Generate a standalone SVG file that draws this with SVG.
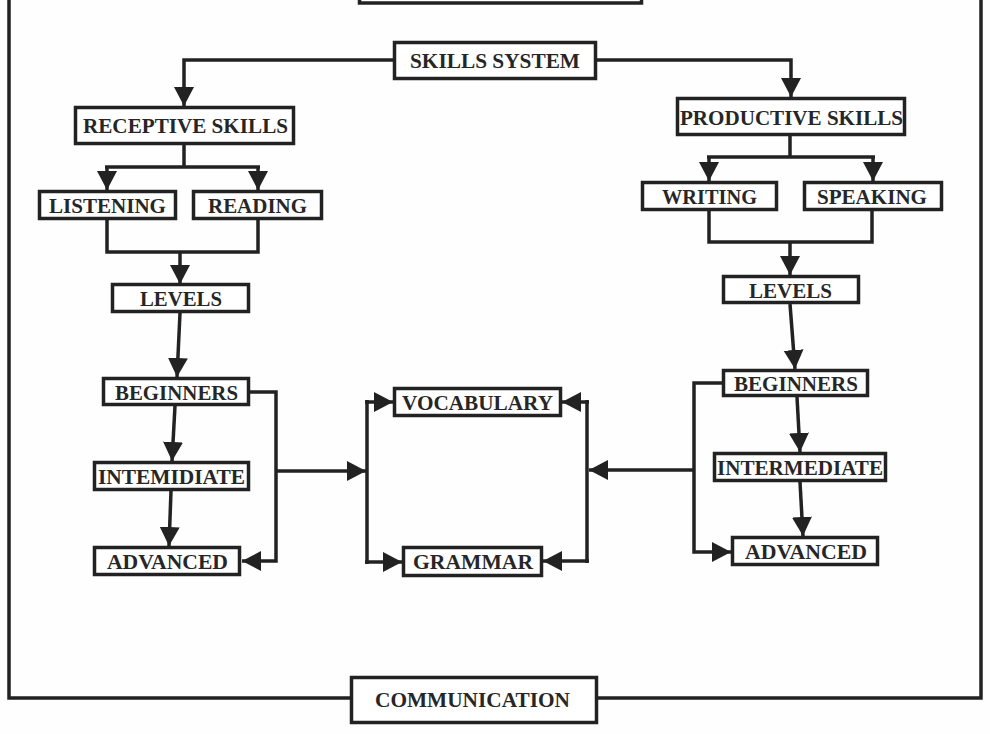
<svg xmlns="http://www.w3.org/2000/svg" width="990" height="734" viewBox="0 0 990 734">
  <style>
    .box { fill: #ffffff; stroke: #222222; stroke-width: 3.5; }
    .lbl { font-family: "Liberation Serif", "Times New Roman", serif; font-weight: bold; font-size: 21px; fill: #262626; }
    .wire { fill: none; stroke: #222222; stroke-width: 3.5; stroke-linejoin: miter; }
    .arr { fill: none; stroke: #222222; stroke-width: 3.5; marker-end: url(#head); }
  </style>
  <defs>
    <marker id="head" markerUnits="userSpaceOnUse" markerWidth="22" markerHeight="22" refX="19" refY="10" orient="auto">
      <path d="M0,0 L19,10 L0,20 z" fill="#222222"/>
    </marker>
  </defs>

  <rect width="990" height="734" fill="#fefefe"/>

  <!-- outer frame -->
  <g id="frame">
    <path class="wire" d="M9,0 V698 H351 M597,698 H981 V0"/>
  </g>

  <!-- connectors -->
  <g id="connectors">
    <!-- skills system to the two branches -->
    <path class="arr" d="M393,60 H184 V106"/>
    <path class="arr" d="M597,60 H791 V97"/>

    <!-- receptive branch -->
    <path class="wire" d="M184,145 V167 M105,167 H260"/>
    <path class="arr" d="M107,166 V190"/>
    <path class="arr" d="M258,166 V190"/>
    <path class="wire" d="M107,220 V252 H258 V220"/>
    <path class="arr" d="M180,252 V284"/>
    <path class="arr" d="M180,313 L177,377"/>
    <path class="arr" d="M175,406 L172,461"/>
    <path class="arr" d="M171,491 L169,546"/>
    <path class="arr" d="M250,392 H276 V561 H242"/>
    <path class="arr" d="M276,471 H366"/>
    <path class="wire" d="M367,400 V564"/>
    <path class="arr" d="M365,402 H393"/>
    <path class="arr" d="M365,562 H402"/>

    <!-- productive branch -->
    <path class="wire" d="M790,136 V157 M707,157 H875"/>
    <path class="arr" d="M709,156 V181"/>
    <path class="arr" d="M873,156 V181"/>
    <path class="wire" d="M709,211 V242 H872 V211"/>
    <path class="arr" d="M790,242 V275"/>
    <path class="arr" d="M790,304 L795,369"/>
    <path class="arr" d="M797,397 L800,452"/>
    <path class="arr" d="M800,482 L803,536"/>
    <path class="arr" d="M722,383 H694 V552 H731"/>
    <path class="arr" d="M694,470 H589"/>
    <path class="wire" d="M587,400 V563"/>
    <path class="arr" d="M589,402 H562"/>
    <path class="arr" d="M589,561 H543"/>
  </g>

  <!-- nodes -->
  <g id="top-box">
    <rect class="box" x="359.5" y="-20" width="282" height="23"/>
  </g>
  <g id="skills-system">
    <rect class="box" x="394.5" y="42.5" width="201" height="36"/>
    <text class="lbl" x="410" y="68" textLength="170" lengthAdjust="spacingAndGlyphs">SKILLS SYSTEM</text>
  </g>
  <g id="receptive-skills">
    <rect class="box" x="75.5" y="107.5" width="218" height="36"/>
    <text class="lbl" x="83" y="133" textLength="205" lengthAdjust="spacingAndGlyphs">RECEPTIVE SKILLS</text>
  </g>
  <g id="listening">
    <rect class="box" x="39.5" y="191.5" width="136" height="27"/>
    <text class="lbl" x="49" y="213" textLength="117" lengthAdjust="spacingAndGlyphs">LISTENING</text>
  </g>
  <g id="reading">
    <rect class="box" x="193.5" y="191.5" width="128" height="27"/>
    <text class="lbl" x="208" y="213" textLength="99" lengthAdjust="spacingAndGlyphs">READING</text>
  </g>
  <g id="levels-left">
    <rect class="box" x="112.5" y="284.5" width="136" height="27"/>
    <text class="lbl" x="140" y="306" textLength="82" lengthAdjust="spacingAndGlyphs">LEVELS</text>
  </g>
  <g id="beginners-left">
    <rect class="box" x="103.5" y="378.5" width="145" height="26"/>
    <text class="lbl" x="115" y="400" textLength="123" lengthAdjust="spacingAndGlyphs">BEGINNERS</text>
  </g>
  <g id="intermediate-left">
    <rect class="box" x="94.5" y="462.5" width="154" height="27"/>
    <text class="lbl" x="98" y="484" textLength="147" lengthAdjust="spacingAndGlyphs">INTEMIDIATE</text>
  </g>
  <g id="advanced-left">
    <rect class="box" x="94.5" y="547.5" width="145" height="27"/>
    <text class="lbl" x="107" y="569" textLength="121" lengthAdjust="spacingAndGlyphs">ADVANCED</text>
  </g>
  <g id="vocabulary">
    <rect class="box" x="394.5" y="388.5" width="166" height="27"/>
    <text class="lbl" x="402" y="410" textLength="151" lengthAdjust="spacingAndGlyphs">VOCABULARY</text>
  </g>
  <g id="grammar">
    <rect class="box" x="403.5" y="547.5" width="138" height="28"/>
    <text class="lbl" x="413" y="569" textLength="120" lengthAdjust="spacingAndGlyphs">GRAMMAR</text>
  </g>
  <g id="productive-skills">
    <rect class="box" x="677.5" y="98.5" width="227" height="36"/>
    <text class="lbl" x="680" y="125" textLength="223" lengthAdjust="spacingAndGlyphs">PRODUCTIVE SKILLS</text>
  </g>
  <g id="writing">
    <rect class="box" x="642.5" y="182.5" width="134" height="27"/>
    <text class="lbl" x="662" y="204" textLength="95" lengthAdjust="spacingAndGlyphs">WRITING</text>
  </g>
  <g id="speaking">
    <rect class="box" x="804.5" y="182.5" width="137" height="27"/>
    <text class="lbl" x="817" y="204" textLength="110" lengthAdjust="spacingAndGlyphs">SPEAKING</text>
  </g>
  <g id="levels-right">
    <rect class="box" x="723.5" y="276.5" width="135" height="26"/>
    <text class="lbl" x="749" y="298" textLength="83" lengthAdjust="spacingAndGlyphs">LEVELS</text>
  </g>
  <g id="beginners-right">
    <rect class="box" x="723.5" y="370.5" width="144" height="25"/>
    <text class="lbl" x="734" y="391" textLength="124" lengthAdjust="spacingAndGlyphs">BEGINNERS</text>
  </g>
  <g id="intermediate-right">
    <rect class="box" x="714.5" y="453.5" width="171" height="27"/>
    <text class="lbl" x="717" y="475" textLength="166" lengthAdjust="spacingAndGlyphs">INTERMEDIATE</text>
  </g>
  <g id="advanced-right">
    <rect class="box" x="732.5" y="537.5" width="145" height="27"/>
    <text class="lbl" x="745" y="559" textLength="122" lengthAdjust="spacingAndGlyphs">ADVANCED</text>
  </g>
  <g id="communication">
    <rect class="box" x="351.5" y="677.5" width="245" height="45"/>
    <text class="lbl" x="375" y="707" textLength="195" lengthAdjust="spacingAndGlyphs">COMMUNICATION</text>
  </g>
</svg>
